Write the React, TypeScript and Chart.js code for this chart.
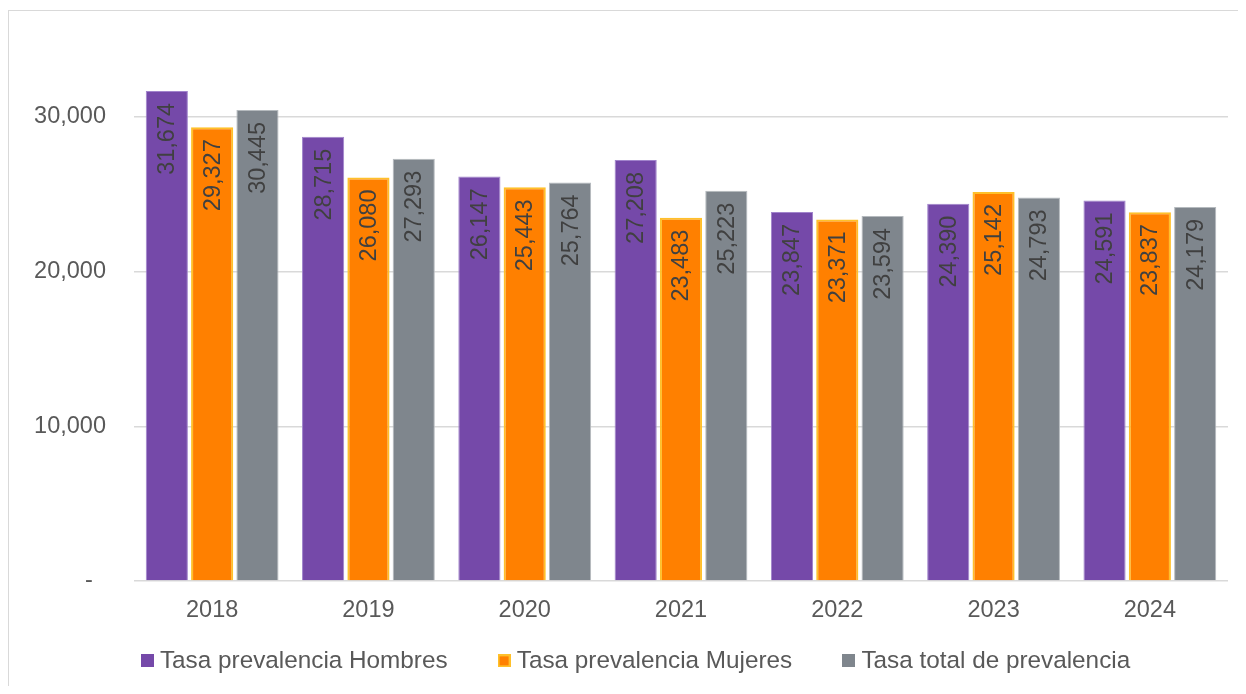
import { useEffect, useRef } from "react";
import { Chart, registerables } from "chart.js";

Chart.register(...registerables);

const FONT = '"Liberation Sans", Arial, sans-serif';

const categories = ["2018", "2019", "2020", "2021", "2022", "2023", "2024"];
const hombres = [31674, 28715, 26147, 27208, 23847, 24390, 24591];
const mujeres = [29327, 26080, 25443, 23483, 23371, 25142, 23837];
const total = [30445, 27293, 25764, 25223, 23594, 24793, 24179];
const seriesNames = [
  "Tasa prevalencia Hombres",
  "Tasa prevalencia Mujeres",
  "Tasa total de prevalencia",
];
const seriesFill = ["#7549A9", "#FF8000", "#7F868D"];
const seriesBorder = ["#A184CC", "#FFC02A", "#B5BABE"];
const yTicks = [0, 10000, 20000, 30000];

const fmt = (v: number) => (v === 0 ? "-" : v.toLocaleString("en-US"));
// Accounting-style axis format: zero shown as a dash with trailing figure space
const fmtAxis = (v: number) => (v === 0 ? "-\u2007" : v.toLocaleString("en-US"));

function swatch(fill: string, border: string, bw: number) {
  const c = document.createElement("canvas");
  c.width = 13;
  c.height = 13;
  const g = c.getContext("2d")!;
  g.fillStyle = border;
  g.fillRect(0, 0, 13, 13);
  g.fillStyle = fill;
  g.fillRect(bw, bw, 13 - 2 * bw, 13 - 2 * bw);
  return c;
}

const barLabels = {
  id: "barLabels",
  afterDatasetsDraw(chart: any) {
    const ctx = chart.ctx;
    ctx.save();
    ctx.font = `23.5px ${FONT}`;
    ctx.fillStyle = "#404040";
    ctx.textAlign = "right";
    ctx.textBaseline = "middle";
    chart.data.datasets.forEach((ds: any, i: number) => {
      const meta = chart.getDatasetMeta(i);
      meta.data.forEach((el: any, j: number) => {
        ctx.save();
        ctx.translate(el.x + 1, el.y + 12);
        ctx.rotate(-Math.PI / 2);
        ctx.fillText(fmt(ds.data[j]), 0, 0);
        ctx.restore();
      });
    });
    ctx.restore();
  },
};

// Keep the legend's wide horizontal item spacing without its tall vertical padding.
const LEGEND_H = 61;
const LEGEND_DX = 8;
const legendFit = {
  id: "legendFit",
  afterInit(chart: any) {
    const lg = chart.legend;
    if (!lg || lg.__patched) return;
    lg.__patched = true;
    const fit = lg.fit.bind(lg);
    const draw = lg.draw.bind(lg);
    lg.fit = function () {
      fit();
      this.__shift = this.height - LEGEND_H;
      this.height = LEGEND_H;
    };
    lg.draw = function (...args: any[]) {
      const t = this.top;
      const l = this.left;
      const r = this.right;
      this.top = t - (this.__shift || 0);
      this.left = l + LEGEND_DX;
      this.right = r + LEGEND_DX;
      draw(...args);
      this.top = t;
      this.left = l;
      this.right = r;
    };
  },
};

export default function App() {
  const ref = useRef<HTMLCanvasElement | null>(null);

  useEffect(() => {
    if (!ref.current) return;
    const series = [hombres, mujeres, total];
    const chart = new Chart(ref.current, {
      type: "bar",
      data: {
        labels: categories,
        datasets: series.map((d, i) => ({
          label: seriesNames[i],
          data: d,
          backgroundColor: seriesFill[i],
          borderColor: seriesBorder[i],
          borderWidth: i === 1 ? 2 : 1,
          pointStyle: swatch(seriesFill[i], seriesBorder[i], i === 1 ? 2 : 0),
        })),
      },
      options: {
        animation: false,
        responsive: true,
        maintainAspectRatio: false,
        layout: { padding: { left: 24, right: 10, top: 28.5, bottom: 3 } },
        datasets: {
          bar: { categoryPercentage: 0.87, barPercentage: 0.93 },
        },
        plugins: {
          legend: {
            position: "bottom",
            labels: {
              usePointStyle: true,
              pointStyleWidth: 1,
              boxHeight: 13,
              padding: 56,
              color: "#595959",
              font: { family: FONT, size: 24.3 },
            },
          },
          tooltip: { enabled: false },
        },
        scales: {
          x: {
            grid: { display: false },
            border: { display: false },
            ticks: {
              color: "#595959",
              font: { family: FONT, size: 23.5 },
              padding: 7,
            },
            afterFit(scale: any) {
              scale.height = 41;
            },
          },
          y: {
            min: 0,
            max: 35000,
            border: { display: false },
            grid: { color: "#D9D9D9", lineWidth: 1.5, drawTicks: false },
            ticks: {
              stepSize: 10000,
              color: "#595959",
              font: { family: FONT, size: 23.5 },
              padding: 28,
              callback: (v: any) => fmtAxis(Number(v)),
            },
            afterBuildTicks(scale: any) {
              scale.ticks = yTicks.map((v) => ({ value: v }));
            },
            afterFit(scale: any) {
              scale.width = 101;
              scale.paddingTop = 0;
              scale.paddingBottom = 0;
            },
          },
        },
      },
      plugins: [barLabels, legendFit],
    });
    return () => chart.destroy();
  }, []);

  return (
    <div
      style={{
        marginTop: 2,
        width: 1229,
        height: 675,
        borderTop: "1px solid #D9D9D9",
        borderLeft: "1px solid #D9D9D9",
        position: "relative",
        background: "#fff",
      }}
    >
      <canvas ref={ref} />
    </div>
  );
}
